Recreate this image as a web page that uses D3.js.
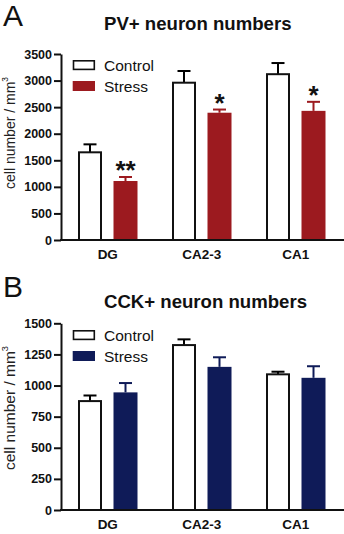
<!DOCTYPE html>
<html><head><meta charset="utf-8">
<script src="https://cdn.jsdelivr.net/npm/d3@7"></script>
<style>
html,body{margin:0;padding:0;background:#fff;}
svg{display:block;font-family:"Liberation Sans",Arial,sans-serif;}
</style></head>
<body><svg id="c" width="344" height="534"></svg>
<script>
const categories = ["DG", "CA2-3", "CA1"];
const series = ["Control", "Stress"];
// PV+ panel
const pvControl = [1650, 2960, 3120];
const pvControlErr = [150, 220, 210];
const pvStress = [1110, 2395, 2430];
const pvStressErr = [75, 60, 170];
const pvStars = ["**", "*", "*"];
const pvTicks = [0, 500, 1000, 1500, 2000, 2500, 3000, 3500];
// CCK+ panel
const cckControl = [875, 1325, 1090];
const cckControlErr = [45, 46, 21];
const cckStress = [945, 1150, 1062];
const cckStressErr = [75, 77, 93];
const cckStars = ["", "", ""];
const cckTicks = [0, 250, 500, 750, 1000, 1250, 1500];

const svg = d3.select("#c");

function panel(o) {
  const g = svg.append("g");
  const x0 = d3.scaleBand().domain(categories).range([61, 343]);
  const x1 = d3.scaleBand().domain(series).range([17, 76.5]).paddingInner(0.324);
  const y = d3.scaleLinear().domain([0, o.max]).range([o.y0, o.y1]);
  const colors = {Control: "#ffffff", Stress: o.color};
  const errColors = {Control: "#000000", Stress: o.color};

  // panel letter
  g.append("text").attr("x", 3).attr("y", o.letterY).attr("font-size", 30)
    .attr("fill", "#111").text(o.letter);
  // title
  g.append("text").attr("x", 104).attr("y", o.titleY).attr("font-size", 18.6)
    .attr("font-weight", "bold").attr("fill", "#111").text(o.title);

  // y axis
  const ya = g.append("g").attr("transform", "translate(61,0)")
    .call(d3.axisLeft(y).tickValues(o.ticks).tickFormat(d3.format("d"))
      .tickSize(7).tickSizeOuter(0).tickPadding(2));
  ya.select(".domain").attr("stroke", "#111").attr("stroke-width", 2);
  ya.selectAll(".tick line").attr("stroke", "#111").attr("stroke-width", 2);
  ya.selectAll(".tick text").attr("font-size", 12.5).attr("font-weight", "bold")
    .attr("fill", "#111").attr("font-family", "Liberation Sans, Arial, sans-serif");

  // y label
  const yl = g.append("text")
    .attr("transform", `translate(${o.ylabX},${o.ylabY}) rotate(-90)`)
    .attr("text-anchor", "middle").attr("font-size", o.ylabSize).attr("fill", "#222");
  yl.append("tspan").text("cell number / mm");
  yl.append("tspan").attr("dy", -o.ylabSize * 0.45).attr("font-size", o.ylabSize * 0.6).text("3");

  // bars
  const rows = [];
  categories.forEach((c, i) => {
    rows.push({cat: c, s: "Control", v: o.control[i], e: o.controlErr[i]});
    rows.push({cat: c, s: "Stress", v: o.stress[i], e: o.stressErr[i], star: o.stars[i]});
  });
  const bw = x1.bandwidth();
  rows.forEach(d => {
    const bx = x0(d.cat) + x1(d.s);
    const cx = bx + bw / 2;
    // error bar
    g.append("line").attr("x1", cx).attr("x2", cx).attr("y1", y(d.v)).attr("y2", y(d.v + d.e))
      .attr("stroke", errColors[d.s]).attr("stroke-width", 2);
    g.append("line").attr("x1", cx - 6.5).attr("x2", cx + 6.5).attr("y1", y(d.v + d.e)).attr("y2", y(d.v + d.e))
      .attr("stroke", errColors[d.s]).attr("stroke-width", 2);
    if (d.s === "Control") {
      g.append("rect").attr("x", bx + 1).attr("y", y(d.v)).attr("width", bw - 2)
        .attr("height", o.y0 - y(d.v)).attr("fill", "#fff").attr("stroke", "#111").attr("stroke-width", 2);
    } else {
      g.append("rect").attr("x", bx).attr("y", y(d.v)).attr("width", bw)
        .attr("height", o.y0 - y(d.v)).attr("fill", colors[d.s]);
    }
    if (d.star) {
      g.append("text").attr("x", cx).attr("y", y(d.v + d.e) - 12 + 14)
        .attr("text-anchor", "middle").attr("font-size", 26).attr("font-weight", "bold")
        .attr("fill", "#111").text(d.star);
    }
  });

  // x axis
  g.append("line").attr("x1", 60).attr("x2", 344).attr("y1", o.y0).attr("y2", o.y0)
    .attr("stroke", "#111").attr("stroke-width", 2);
  categories.forEach(c => {
    g.append("text").attr("x", x0(c) + (17 + 76.5) / 2).attr("y", o.y0 + 18.5)
      .attr("text-anchor", "middle").attr("font-size", 13.5).attr("font-weight", "bold")
      .attr("fill", "#111").text(c);
  });

  // legend
  series.forEach((s, i) => {
    const ly = o.legY + i * 21;
    g.append("rect").attr("x", s === "Control" ? 73.5 : 72.7).attr("y", s === "Control" ? ly + 0.8 : ly)
      .attr("width", s === "Control" ? 20.8 : 22.3).attr("height", s === "Control" ? 8.6 : 10)
      .attr("fill", colors[s]).attr("stroke", s === "Control" ? "#111" : "none").attr("stroke-width", 1.6);
    g.append("text").attr("x", 104).attr("y", ly + 10.5).attr("font-size", 15.5)
      .attr("fill", "#111").text(s);
  });
}

panel({letter: "A", letterY: 26, title: "PV+ neuron numbers", titleY: 30,
  max: 3500, y0: 240, y1: 54, ticks: pvTicks, color: "#9c1a1f",
  control: pvControl, controlErr: pvControlErr, stress: pvStress, stressErr: pvStressErr, stars: pvStars,
  ylabX: 14.5, ylabY: 133, ylabSize: 14, legY: 60});

panel({letter: "B", letterY: 297, title: "CCK+ neuron numbers", titleY: 308,
  max: 1500, y0: 510, y1: 323.3, ticks: cckTicks, color: "#0f1b58",
  control: cckControl, controlErr: cckControlErr, stress: cckStress, stressErr: cckStressErr, stars: cckStars,
  ylabX: 15, ylabY: 408, ylabSize: 15.5, legY: 330});
</script></body></html>
